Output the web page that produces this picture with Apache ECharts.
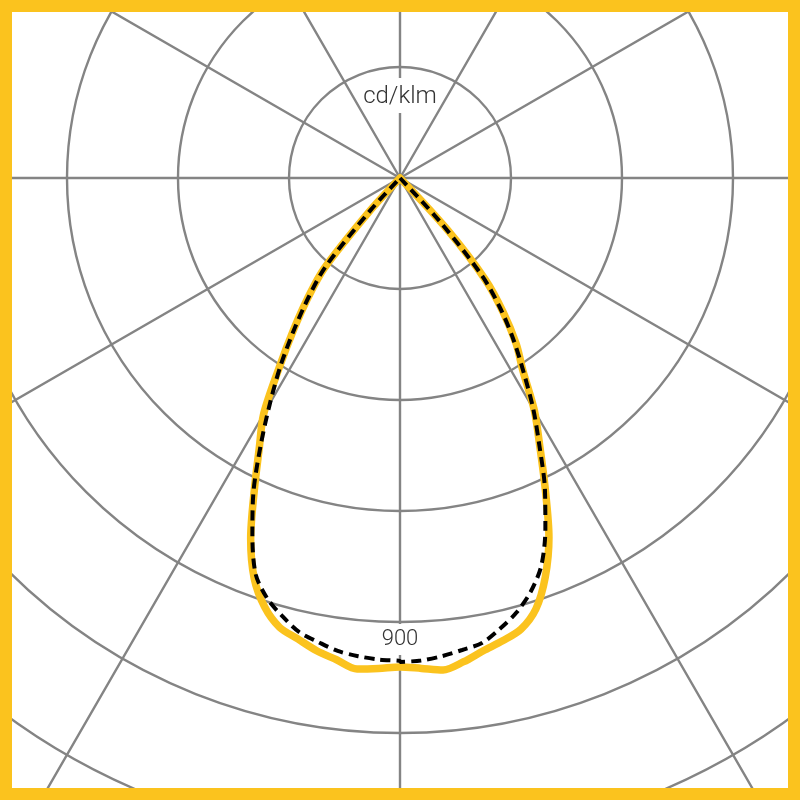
<!DOCTYPE html>
<html>
<head>
<meta charset="utf-8">
<script src="https://cdn.jsdelivr.net/npm/echarts@6/dist/echarts.min.js"></script>
<style>
  html, body { margin: 0; padding: 0; background: #fff; }
  #chart { width: 800px; height: 800px; }
</style>
</head>
<body>
<div id="chart"></div>
<script>
// Gamma angles (degrees from nadir)
const gammas = [0, 2.5, 5, 7.5, 10, 12.5, 15, 17.5, 20, 22.5, 25, 27.5, 30, 32.5, 35, 37.5, 40, 42.5, 44];
// C0-C180 plane (solid orange), cd/klm
const planeA_right = [991, 995, 1001, 989, 973, 961, 947, 916, 861, 789, 697, 614, 545, 464, 411, 345, 270, 142, 0];
const planeA_left  = [991, 995, 999, 985, 973, 957, 943, 912, 864, 791, 699, 618, 553, 456, 377, 308, 239, 91, 0];
// C90-C270 plane (dashed black), cd/klm
const planeB_right = [981, 979, 973, 965, 957, 936, 912, 880, 837, 770, 695, 612, 540, 466, 402, 336, 259, 122, 0];
const planeB_left  = [979, 977, 973, 967, 955, 943, 920, 894, 855, 782, 703, 612, 527, 450, 373, 304, 235, 87, 0];
// Radial grid
const ringStep = 225;
const ringMax = 1575;
const unitLabel = 'cd/klm';
const ringLabel = '900';

function buildCurve(right, left) {
  const pts = [];
  for (let i = gammas.length - 1; i >= 0; i--) pts.push([right[i], -gammas[i]]);
  for (let i = 0; i < gammas.length; i++) pts.push([left[i], gammas[i]]);
  return pts;
}

const chart = echarts.init(document.getElementById('chart'), null, { renderer: 'canvas' });
const gridColor = '#848484';
const orange = '#FBC31E';
const cx = 400, cy = 178, pxPerRing = 111;

chart.setOption({
  animation: false,
  backgroundColor: '#fff',
  polar: { center: [cx, cy], radius: pxPerRing * (ringMax / ringStep) },
  angleAxis: {
    type: 'value', min: -180, max: 180, interval: 30,
    startAngle: 90, clockwise: true,
    axisLine: { show: false }, axisTick: { show: false }, axisLabel: { show: false },
    splitLine: { show: true, lineStyle: { color: gridColor, width: 2.4 } }
  },
  radiusAxis: {
    type: 'value', min: 0, max: ringMax, interval: ringStep,
    axisLine: { show: false }, axisTick: { show: false }, axisLabel: { show: false },
    splitLine: { show: true, lineStyle: { color: gridColor, width: 2.4 } }
  },
  series: [
    {
      type: 'line', coordinateSystem: 'polar', symbol: 'none', smooth: 0.3,
      data: buildCurve(planeA_right, planeA_left),
      lineStyle: { color: orange, width: 7.5, join: 'round', cap: 'round' }, z: 3
    },
    {
      type: 'line', coordinateSystem: 'polar', symbol: 'none', smooth: 0.3,
      data: buildCurve(planeB_right, planeB_left),
      lineStyle: { color: '#000', width: 4, type: [10, 6] }, z: 4
    }
  ],
  graphic: [
    { type: 'rect', z: 40, shape: { x: cx - 4, y: 78, width: 8, height: 35 }, style: { fill: '#fff' } },
    { type: 'rect', z: 40, shape: { x: cx - 4, y: 624, width: 8, height: 31 }, style: { fill: '#fff' } },
    {
      type: 'text', x: cx, y: 97, z: 50,
      style: {
        text: unitLabel, font: '300 24px Roboto, "Liberation Sans", sans-serif', fill: '#333',
        align: 'center', verticalAlign: 'middle', textAlign: 'center', textVerticalAlign: 'middle'
      }
    },
    {
      type: 'text', x: cx, y: 639, z: 50,
      style: {
        text: ringLabel, font: '300 22px Roboto, "Liberation Sans", sans-serif', fill: '#333',
        align: 'center', verticalAlign: 'middle', textAlign: 'center', textVerticalAlign: 'middle'
      }
    },
    {
      type: 'rect', z: 100,
      shape: { x: 6, y: 6, width: 788, height: 788 },
      style: { fill: 'none', stroke: orange, lineWidth: 12 }
    }
  ]
});
</script>
</body>
</html>
